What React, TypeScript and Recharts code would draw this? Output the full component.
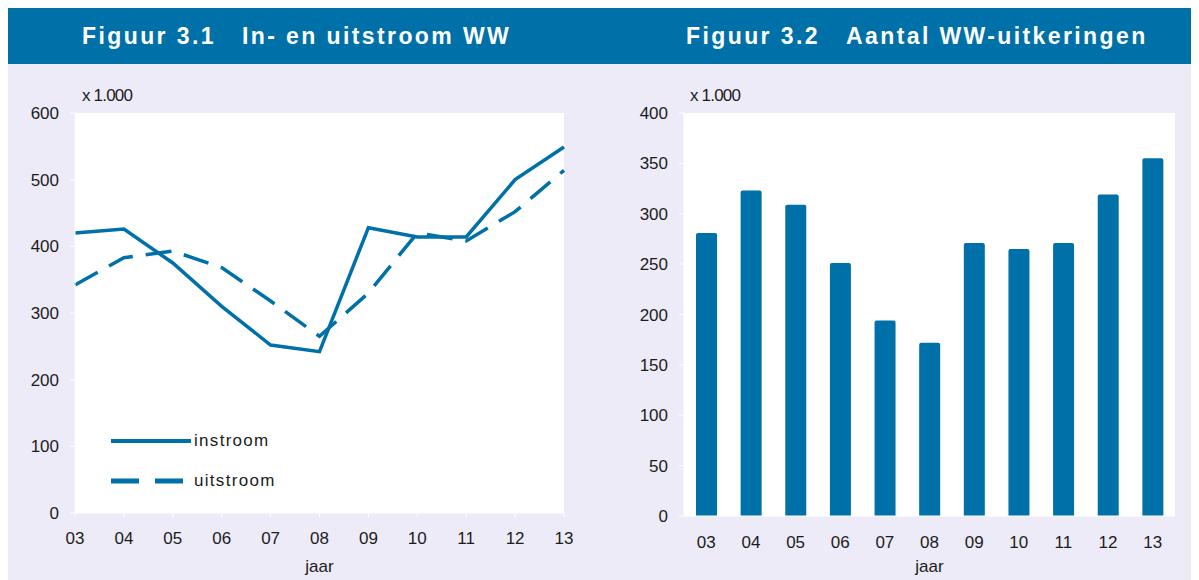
import { LineChart, Line, BarChart, Bar, XAxis, YAxis, CartesianGrid, Legend } from "recharts";

const jaren = ["03", "04", "05", "06", "07", "08", "09", "10", "11", "12", "13"];
const instroom = [420, 426, 375, 310, 252, 242, 428, 414, 414, 500, 549];
const uitstroom = [342, 383, 393, 368, 318, 265, 330, 420, 408, 452, 514];
const uitkeringen = [281, 323, 309, 251, 194, 172, 271, 265, 271, 319, 355];

const leftTicks = [0, 100, 200, 300, 400, 500, 600];
const rightTicks = [0, 50, 100, 150, 200, 250, 300, 350, 400];

const BLUE = "#0070A8";
const BG = "#EDEBF7";
const FONT = "'Liberation Sans', Arial, sans-serif";
const INK = "#1c1c1c";

const stroomData = jaren.map((jaar, i) => ({ jaar, instroom: instroom[i], uitstroom: uitstroom[i] }));
const wwData = jaren.map((jaar, i) => ({ jaar, aantal: uitkeringen[i] }));

const dashes: Record<string, string | undefined> = { instroom: undefined, uitstroom: "26 13" };

const tick = { fontSize: 17, fontFamily: FONT, fill: INK };

function StroomLegend(props: any) {
  const items = props.payload || [];
  return (
    <div style={{ fontFamily: FONT, fontSize: 17, color: INK }}>
      {items.map((it: any) => (
        <div key={it.value} style={{ display: "flex", alignItems: "center", height: 40 }}>
          <svg width={80} height={10}>
            <line
              x1={0}
              y1={5}
              x2={80}
              y2={5}
              stroke={it.color}
              strokeWidth={it.dataKey === "uitstroom" ? 5 : 4}
              strokeDasharray={it.dataKey === "uitstroom" ? "28 16" : undefined}
            />
          </svg>
          <span style={{ marginLeft: 3, letterSpacing: 1.3 }}>{it.value}</span>
        </div>
      ))}
    </div>
  );
}

const titleStyle = {
  position: "absolute" as const,
  top: 0,
  height: 56,
  lineHeight: "56px",
  color: "#fff",
  fontFamily: FONT,
  fontWeight: 700,
  fontSize: 23,
  letterSpacing: 2.4,
  whiteSpace: "nowrap" as const,
};

const unitStyle = {
  position: "absolute" as const,
  top: 78,
  fontFamily: FONT,
  fontSize: 17,
  color: INK,
  letterSpacing: -0.8,
};

export default function App() {
  return (
    <div style={{ position: "relative", width: 1191, height: 572, background: BG, overflow: "hidden" }}>
      <div style={{ position: "absolute", left: 0, top: 0, width: 1191, height: 56, background: BLUE }} />
      <div style={{ ...titleStyle, left: 74 }}>Figuur 3.1</div>
      <div style={{ ...titleStyle, left: 234 }}>In- en uitstroom WW</div>
      <div style={{ ...titleStyle, left: 678 }}>Figuur 3.2</div>
      <div style={{ ...titleStyle, left: 838 }}>Aantal WW-uitkeringen</div>

      <div style={{ ...unitStyle, left: 74 }}>x 1.000</div>
      <div style={{ ...unitStyle, left: 682 }}>x 1.000</div>

      <div style={{ position: "absolute", left: 0, top: 56 }}>
        <LineChart width={600} height={516} data={stroomData} margin={{ top: 49, right: 44, bottom: 0, left: 0 }}>
          <CartesianGrid fill="#ffffff" horizontal={false} vertical={false} />
          <XAxis
            dataKey="jaar"
            height={67}
            interval={0}
            tick={tick}
            tickSize={4}
            tickMargin={15}
            tickLine={{ stroke: "#ffffff" }}
            axisLine={{ stroke: "#ffffff" }}
            label={{ value: "jaar", position: "insideBottom", offset: 8, fontSize: 17, fontFamily: FONT, fill: INK }}
          />
          <YAxis
            width={67}
            domain={[0, 600]}
            ticks={leftTicks}
            interval={0}
            tick={tick}
            tickSize={5}
            tickMargin={11}
            tickLine={{ stroke: "#ffffff" }}
            axisLine={{ stroke: "#ffffff" }}
          />
          <Legend
            layout="vertical"
            align="center"
            verticalAlign="middle"
            wrapperStyle={{ left: 103, top: 357, width: 200 }}
            content={StroomLegend}
          />
          {["instroom", "uitstroom"].map((key) => (
            <Line
              key={key}
              type="linear"
              dataKey={key}
              name={key}
              stroke={BLUE}
              strokeWidth={3.5}
              strokeDasharray={dashes[key]}
              dot={false}
              activeDot={false}
              isAnimationActive={false}
            />
          ))}
        </LineChart>
      </div>

      <div style={{ position: "absolute", left: 600, top: 56 }}>
        <BarChart width={591} height={516} data={wwData} margin={{ top: 49, right: 24, bottom: 0, left: 0 }}>
          <CartesianGrid fill="#ffffff" horizontal={false} vertical={false} />
          <XAxis
            dataKey="jaar"
            height={64}
            interval={0}
            tick={tick}
            tickSize={0}
            tickMargin={20}
            tickLine={false}
            axisLine={{ stroke: "#ffffff" }}
            label={{ value: "jaar", position: "insideBottom", offset: 8, fontSize: 17, fontFamily: FONT, fill: INK }}
          />
          <YAxis
            width={76}
            domain={[0, 400]}
            ticks={rightTicks}
            interval={0}
            tick={tick}
            tickSize={5}
            tickMargin={11}
            tickLine={{ stroke: "#ffffff" }}
            axisLine={{ stroke: "#ffffff" }}
          />
          <Bar dataKey="aantal" fill={BLUE} barSize={21} radius={[2, 2, 0, 0]} isAnimationActive={false} />
        </BarChart>
      </div>
    </div>
  );
}
